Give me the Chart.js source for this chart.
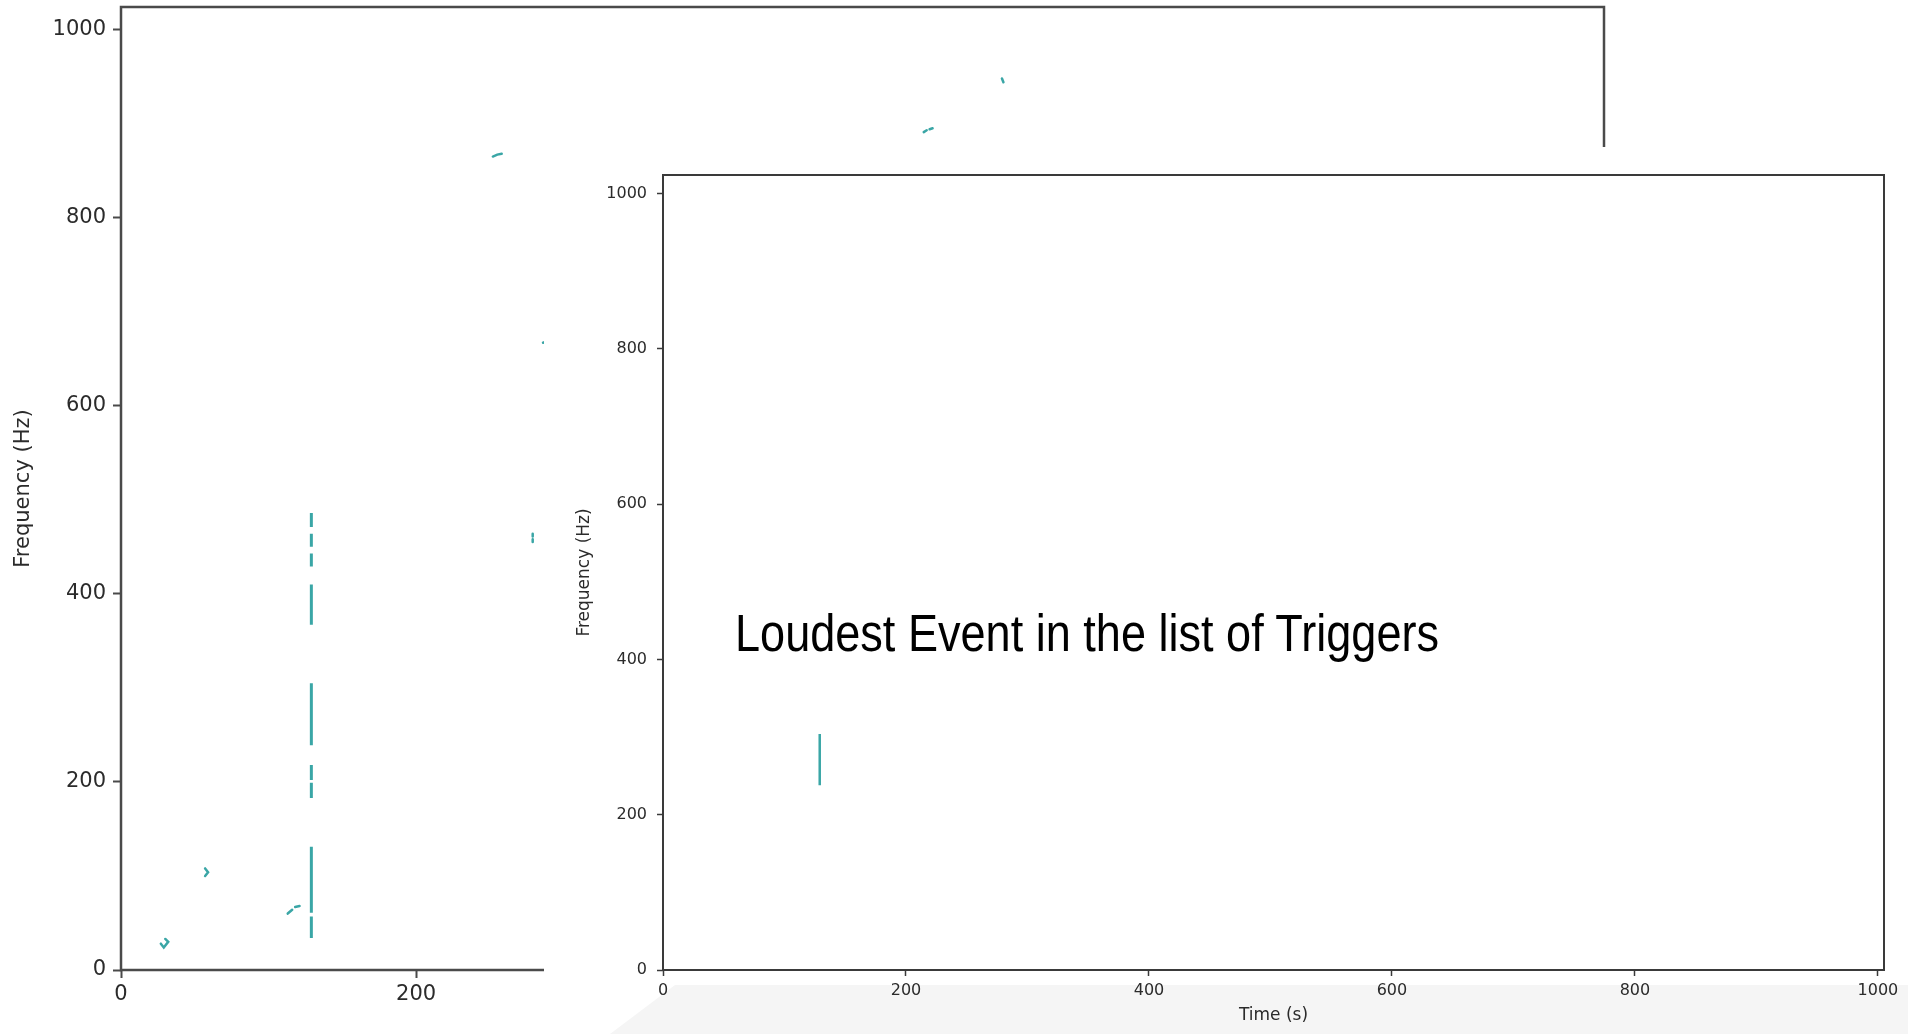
<!DOCTYPE html>
<html>
<head>
<meta charset="utf-8">
<title>Loudest Event in the list of Triggers</title>
<script src="https://cdn.jsdelivr.net/npm/chart.js@4.4.1/dist/chart.umd.min.js"></script>
<style>
  html, body { margin: 0; padding: 0; background: #fff; }
  body { width: 1908px; height: 1034px; position: relative; overflow: hidden; }
  #back { position: absolute; left: 0; top: 0; width: 1640px; height: 1034px; }
  #front { position: absolute; left: 544px; top: 147px; width: 1364px; height: 887px; background: #fff; }
  #shade { position: absolute; left: 0; top: 838px; width: 1364px; height: 49px; background: #f5f5f5;
           clip-path: polygon(131px 0, 100% 0, 100% 100%, 66px 100%); }
  #frontWrap { position: absolute; left: 0; top: 0; width: 1364px; height: 887px; }
  #caption { position: absolute; left: 735px; top: 608px; color: #000; white-space: nowrap;
             font-family: "Liberation Sans Narrow", "Liberation Sans", sans-serif;
             font-size: 51px; line-height: 51px; transform-origin: 0 0; }
</style>
</head>
<body>
<div id="back"><canvas id="backChart"></canvas></div>
<div id="front">
  <div id="shade"></div>
  <div id="frontWrap"><canvas id="frontChart"></canvas></div>
</div>
<div id="caption">Loudest Event in the list of Triggers</div>

<script>
// axis ranges (time in s, frequency in Hz)
const timeMax = 1005;
const freqMax = 1024;
const timeTicks = [0, 200, 400, 600, 800, 1000];
const freqTicks = [0, 200, 400, 600, 800, 1000];

// long track in the full trigger list, broken into pieces
const trackTime = 129;
const trackTop = [486, 464, 443, 410, 305, 218, 199, 131, 57];
const trackBottom = [471, 450, 429, 367, 239, 202, 183, 61, 34];

// small scattered triggers (each entry is one little stroke)
const blipTimes = [
  [27, 29, 32, 30],
  [57, 59, 57],
  [113, 116],
  [118, 121],
  [252, 255, 258],
  [279, 279],
  [279, 279],
  [286, 288],
  [544, 546],
  [548, 550],
  [597, 598]
];
const blipFreqs = [
  [28, 24, 30, 33],
  [108, 104, 100],
  [60, 64],
  [67, 68],
  [865, 867, 868],
  [464, 461],
  [458, 455],
  [667, 668],
  [891, 893],
  [894, 895],
  [948, 944]
];

// the loudest event only
const loudTime = 129;
const loudTop = [304];
const loudBottom = [238];

const teal = '#3aa6a6';
const ink = '#2b2b2b';

function track(time, tops, bottoms) {
  const pts = [];
  tops.forEach((top, i) => {
    pts.push({x: time, y: top}, {x: time, y: bottoms[i]}, {x: time, y: null});
  });
  return pts;
}

function strokes(xs, ys) {
  const pts = [];
  xs.forEach((row, i) => {
    row.forEach((t, j) => pts.push({x: t, y: ys[i][j]}));
    pts.push({x: row[0], y: null});
  });
  return pts;
}

// box around the plot area like matplotlib's spines
const frame = {
  id: 'frame',
  afterDraw(chart, args, opts) {
    const {ctx, chartArea: a} = chart;
    ctx.save();
    ctx.strokeStyle = opts.color;
    ctx.lineWidth = opts.width;
    ctx.strokeRect(a.left, a.top, a.right - a.left, a.bottom - a.top);
    ctx.restore();
  }
};

function scales(s) {
  const family = "'DejaVu Sans', sans-serif";
  return {
    x: {
      type: 'linear', min: 0, max: timeMax,
      title: {display: !!s.xTitle, text: s.xTitle, color: ink,
              font: {family, size: s.titleSize}, padding: {top: 0, bottom: s.xTitlePad}},
      ticks: {color: ink, maxRotation: 0, autoSkip: false, callback: v => String(v),
              font: {family, size: s.tickSize}, padding: s.xTickPad},
      grid: {drawOnChartArea: false, tickLength: s.tickLen, tickColor: s.line, tickWidth: s.tickWidth},
      border: {display: false},
      afterBuildTicks: sc => { sc.ticks = timeTicks.map(v => ({value: v})); },
      afterFit: sc => { sc.height = s.xHeight; sc.paddingLeft = 0; sc.paddingRight = 0; }
    },
    y: {
      type: 'linear', min: 0, max: freqMax,
      title: {display: true, text: 'Frequency (Hz)', color: ink,
              font: {family, size: s.titleSize}, padding: {top: s.yTitlePad, bottom: 0}},
      ticks: {color: ink, autoSkip: false, callback: v => String(v),
              font: {family, size: s.tickSize}, padding: s.yTickPad},
      grid: {drawOnChartArea: false, tickLength: s.tickLen, tickColor: s.line, tickWidth: s.tickWidth},
      border: {display: false},
      afterBuildTicks: sc => { sc.ticks = freqTicks.map(v => ({value: v})); },
      afterFit: sc => { sc.width = s.yWidth; sc.paddingTop = 0; sc.paddingBottom = 0; }
    }
  };
}

const common = {
  type: 'scatter',
  plugins: [frame]
};

new Chart(document.getElementById('backChart'), {
  ...common,
  data: {
    datasets: [
      {data: track(trackTime, trackTop, trackBottom), showLine: true, spanGaps: false,
       borderColor: teal, borderWidth: 3, pointRadius: 0},
      {data: strokes(blipTimes, blipFreqs), showLine: true, spanGaps: false,
       borderColor: teal, borderWidth: 2.5, borderCapStyle: 'round', pointRadius: 0}
    ]
  },
  options: {
    responsive: true, maintainAspectRatio: false, animation: false,
    layout: {padding: {left: 0, top: 7, right: 36, bottom: 0}},
    plugins: {legend: {display: false}, tooltip: {enabled: false}, frame: {color: '#4a4a4a', width: 2.5}},
    scales: scales({xTitle: '', titleSize: 21, tickSize: 21, tickLen: 8, tickWidth: 2, line: '#4a4a4a',
                    xTickPad: 4, yTickPad: 7, xTitlePad: 0, yTitlePad: 11, xHeight: 64, yWidth: 121})
  }
});

new Chart(document.getElementById('frontChart'), {
  ...common,
  data: {
    datasets: [
      {data: track(loudTime, loudTop, loudBottom), showLine: true, spanGaps: false,
       borderColor: teal, borderWidth: 2.5, pointRadius: 0}
    ]
  },
  options: {
    responsive: true, maintainAspectRatio: false, animation: false,
    layout: {padding: {left: 0, top: 28, right: 24, bottom: 0}},
    plugins: {legend: {display: false}, tooltip: {enabled: false}, frame: {color: '#3a3a3a', width: 2}},
    scales: scales({xTitle: 'Time (s)', titleSize: 17, tickSize: 16, tickLen: 6, tickWidth: 1.5, line: '#3a3a3a',
                    xTickPad: 5, yTickPad: 10, xTitlePad: 8, yTitlePad: 30, xHeight: 64, yWidth: 119})
  }
});

// stretch the caption so it spans the same width as in the slide
const caption = document.getElementById('caption');
const fit = () => {
  caption.style.transform = 'none';
  const w = caption.getBoundingClientRect().width;
  caption.style.transform = 'scaleX(' + (704 / w) + ')';
};
fit();
if (document.fonts) document.fonts.ready.then(fit);
</script>
</body>
</html>
